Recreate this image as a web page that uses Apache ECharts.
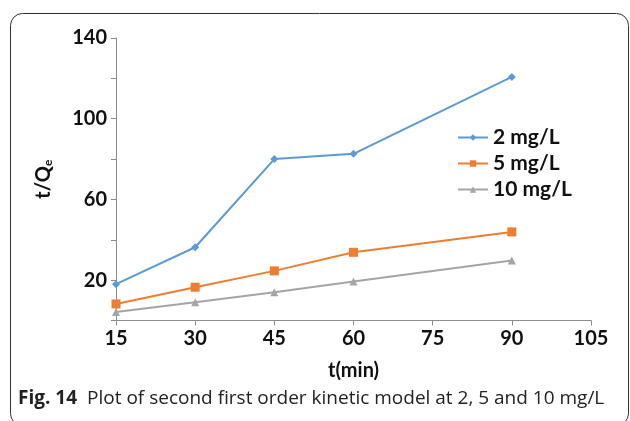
<!DOCTYPE html>
<html>
<head>
<meta charset="utf-8">
<script src="https://cdn.jsdelivr.net/npm/echarts@6/dist/echarts.min.js"></script>
<style>
  html, body { margin: 0; padding: 0; background: #fff; }
  #chart { width: 630px; height: 421px; }
</style>
</head>
<body>
<div id="chart"></div>
<script>
// data
var times = [15, 30, 45, 60, 90];
var conc2 = [18.0, 36.3, 80.0, 82.6, 120.7];
var conc5 = [8.2, 16.5, 24.6, 33.8, 43.9];
var conc10 = [4.2, 9.0, 14.0, 19.3, 29.7];
var seriesNames = ['2 mg/L', '5 mg/L', '10 mg/L'];
var captionBold = 'Fig. 14';
var captionText = 'Plot of second first order kinetic model at 2, 5 and 10 mg/L';

function pairs(ys) {
  return times.map(function (t, i) { return [t, ys[i]]; });
}

var labelFont = { fontFamily: 'Lato', fontWeight: 'bold', fontSize: 20, color: '#111' };

var option = {
  animation: false,
  grid: { left: 116, right: 39, top: 38, bottom: 100.5 },
  legend: {
    left: 452,
    top: 122,
    orient: 'vertical',
    itemWidth: 30,
    itemHeight: 8,
    itemGap: 5,
    textStyle: { fontFamily: 'Lato', fontWeight: 'bold', fontSize: 21, color: '#111' },
    data: seriesNames
  },
  xAxis: {
    type: 'value',
    min: 15,
    max: 105,
    interval: 15,
    name: 't(min)',
    nameLocation: 'middle',
    nameGap: 40,
    nameTextStyle: labelFont,
    axisLine: { lineStyle: { color: '#8c8c8c', width: 1 } },
    axisTick: { show: true, length: 5, lineStyle: { color: '#8c8c8c' } },
    axisLabel: Object.assign({ margin: 8 }, labelFont),
    splitLine: { show: false }
  },
  yAxis: {
    type: 'value',
    min: 0,
    max: 140,
    interval: 20,
    name: '{m|t/Q}{s|e}',
    nameLocation: 'middle',
    nameGap: 62,
    nameRotate: 90,
    nameTextStyle: {
      rich: {
        m: { fontFamily: 'Lato', fontWeight: 'bold', fontSize: 20, color: '#111' },
        s: { fontFamily: 'Lato', fontWeight: 'bold', fontSize: 12, color: '#111', padding: [9, 0, 0, 0] }
      }
    },
    axisLine: { show: true, lineStyle: { color: '#8c8c8c', width: 1 } },
    axisTick: { show: true, length: 5, lineStyle: { color: '#8c8c8c' } },
    axisLabel: Object.assign({
      margin: 9,
      formatter: function (v) { return v % 40 === 20 ? String(v) : ''; }
    }, labelFont),
    splitLine: { show: false }
  },
  series: [
    {
      name: seriesNames[0], type: 'line', data: pairs(conc2),
      symbol: 'diamond', symbolSize: 8,
      lineStyle: { color: '#5b9bd5', width: 2 },
      itemStyle: { color: '#5b9bd5' }
    },
    {
      name: seriesNames[1], type: 'line', data: pairs(conc5),
      symbol: 'rect', symbolSize: 9,
      lineStyle: { color: '#ed7d31', width: 2 },
      itemStyle: { color: '#ed7d31' }
    },
    {
      name: seriesNames[2], type: 'line', data: pairs(conc10),
      symbol: 'triangle', symbolSize: 8,
      lineStyle: { color: '#a5a5a5', width: 2 },
      itemStyle: { color: '#a5a5a5' }
    }
  ],
  graphic: [
    {
      type: 'rect',
      shape: { x: 10.5, y: 13.5, width: 618, height: 412, r: 12 },
      style: { fill: 'none', stroke: '#333', lineWidth: 1 },
      silent: true
    },
    {
      type: 'text',
      left: 18,
      top: 389,
      style: {
        text: '{b|' + captionBold + '}{r|' + captionText + '}',
        rich: {
          b: { fontFamily: 'Open Sans', fontWeight: 'bold', fontSize: 19, fill: '#222', padding: [0, 10, 0, 0] },
          r: { fontFamily: 'Open Sans', fontSize: 19, fill: '#222' }
        }
      }
    }
  ]
};

var chart = echarts.init(document.getElementById('chart'), null, { renderer: 'canvas' });
chart.setOption(option);
</script>
</body>
</html>
